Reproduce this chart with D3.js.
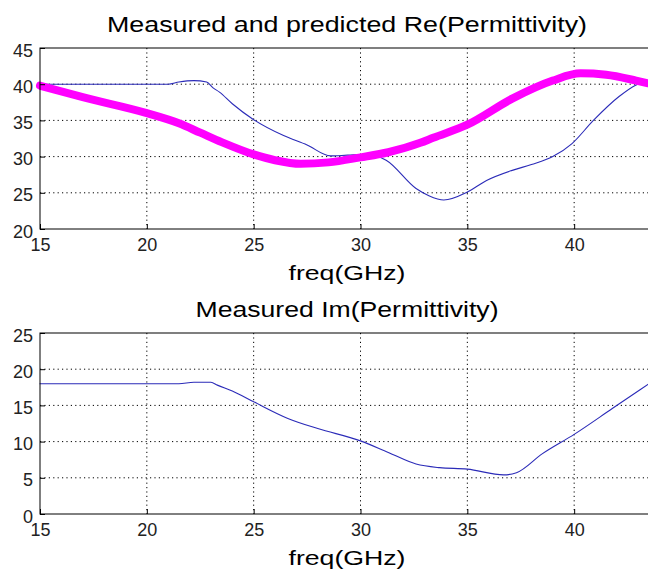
<!DOCTYPE html>
<meta charset="utf-8">
<style>
  body { margin: 0; background: #fff; }
  svg { display: block; font-family: "Liberation Sans", Arial, sans-serif; }
  .grid line { stroke: #000; stroke-dasharray: 1.2,3.2; stroke-width: 1; }
  .tick text { font-size: 18px; fill: #222; }
  .title { font-size: 22px; text-anchor: middle; fill: #000; }
  .xlab { font-size: 21px; text-anchor: middle; fill: #000; }
</style>
<body>
<svg width="648" height="575"></svg>
<script src="https://d3js.org/d3.v7.min.js"></script>
<script>
// freq (GHz) for the measured real part
const reFreq = [15, 17, 19, 21, 21.5, 22.2, 22.8, 23.1, 23.4, 24, 25, 26.4, 27.5, 28.6, 29.4, 30.4, 31.2, 32.6, 33.2, 33.9, 35, 35.9, 37.1, 38, 39, 39.9, 40.9, 42.1, 42.9, 43.5];
const reMeasured = [40, 40, 40, 40, 40.3, 40.5, 40.3, 39.5, 38.9, 37.3, 35.1, 32.9, 31.6, 30.1, 30.2, 30.3, 29.5, 25.6, 24.6, 24.0, 25.1, 26.7, 28.1, 28.9, 30.0, 31.8, 35.0, 38.3, 39.9, 40.5];

// predicted real part
const predFreq = [15, 17, 20, 21.5, 22.5, 23.5, 25, 26, 27.2, 28.5, 30, 31.3, 32.8, 33.4, 35, 37.1, 39, 40.3, 41.5, 42.9, 43.5];
const rePredicted = [39.8, 38.2, 36.0, 34.6, 33.3, 32.0, 30.3, 29.5, 29.0, 29.2, 29.9, 30.6, 31.9, 32.6, 34.4, 38.0, 40.5, 41.5, 41.3, 40.5, 40.1];

// measured imaginary part
const imFreq = [15, 18, 21.5, 22.2, 23, 23.3, 24, 25, 26.6, 28, 30, 31.3, 32.6, 33.7, 35, 36.7, 37.3, 38.5, 40, 41.8, 43.5];
const imMeasured = [18, 18, 18, 18.2, 18.2, 17.8, 17.0, 15.5, 13.2, 11.8, 10.1, 8.5, 6.9, 6.4, 6.2, 5.4, 5.7, 8.3, 11.0, 14.6, 18.0];

const xTicks = [15, 20, 25, 30, 35, 40];
const reTicks = [20, 25, 30, 35, 40, 45];
const imTicks = [0, 5, 10, 15, 20, 25];

const svg = d3.select("svg");
const left = 40, right = 681;

function panel(top, bottom, yDomain, yTicks, title, titleLen, series) {
  const x = d3.scaleLinear().domain([15, 45]).range([left, right]);
  const y = d3.scaleLinear().domain(yDomain).range([bottom, top]);
  const g = svg.append("g");

  // dotted grid
  const grid = g.append("g").attr("class", "grid");
  grid.selectAll("line.v").data(xTicks.slice(1)).join("line")
    .attr("x1", d => x(d)).attr("x2", d => x(d))
    .attr("y1", top).attr("y2", bottom);
  grid.selectAll("line.h").data(yTicks.slice(1, -1)).join("line")
    .attr("x1", left).attr("x2", right)
    .attr("y1", d => y(d)).attr("y2", d => y(d));

  series.forEach(s => {
    const line = d3.line()
      .x((d, i) => x(s.xs[i]))
      .y(d => y(d))
      .curve(d3.curveMonotoneX);
    g.append("path")
      .datum(s.ys)
      .attr("fill", "none")
      .attr("stroke", s.color)
      .attr("stroke-width", s.width)
      .attr("stroke-linecap", "round")
      .attr("d", line);
  });

  // box
  g.append("rect")
    .attr("x", left).attr("y", top)
    .attr("width", right - left).attr("height", bottom - top)
    .attr("fill", "none").attr("stroke", "#000").attr("stroke-width", 1);

  const xAxis = g.append("g")
    .attr("transform", `translate(0,${bottom})`)
    .call(d3.axisBottom(x).tickValues(xTicks).tickSize(-5).tickPadding(9).tickFormat(d3.format("d")));
  xAxis.select(".domain").remove();
  xAxis.selectAll(".tick text").attr("dy", "0.7em");

  const yAxis = g.append("g")
    .attr("transform", `translate(${left},0)`)
    .call(d3.axisLeft(y).tickValues(yTicks).tickSize(-5).tickPadding(7).tickFormat(d3.format("d")));
  yAxis.select(".domain").remove();
  yAxis.selectAll(".tick text").attr("dy", "0.45em");

  svg.append("text").attr("class", "title")
    .attr("x", 347).attr("y", top - 16)
    .attr("textLength", titleLen).attr("lengthAdjust", "spacingAndGlyphs")
    .text(title);
  svg.append("text").attr("class", "xlab")
    .attr("x", 347).attr("y", bottom + 51)
    .attr("textLength", 117).attr("lengthAdjust", "spacingAndGlyphs")
    .text("freq(GHz)");
}

panel(48, 229, [20, 45], reTicks, "Measured and predicted Re(Permittivity)", 480, [
  { xs: reFreq, ys: reMeasured, color: "#2b2bb8", width: 1.1 },
  { xs: predFreq, ys: rePredicted, color: "#ff00ff", width: 8 }
]);

panel(333, 514, [0, 25], imTicks, "Measured Im(Permittivity)", 303, [
  { xs: imFreq, ys: imMeasured, color: "#2b2bb8", width: 1.1 }
]);
</script>
</body>
